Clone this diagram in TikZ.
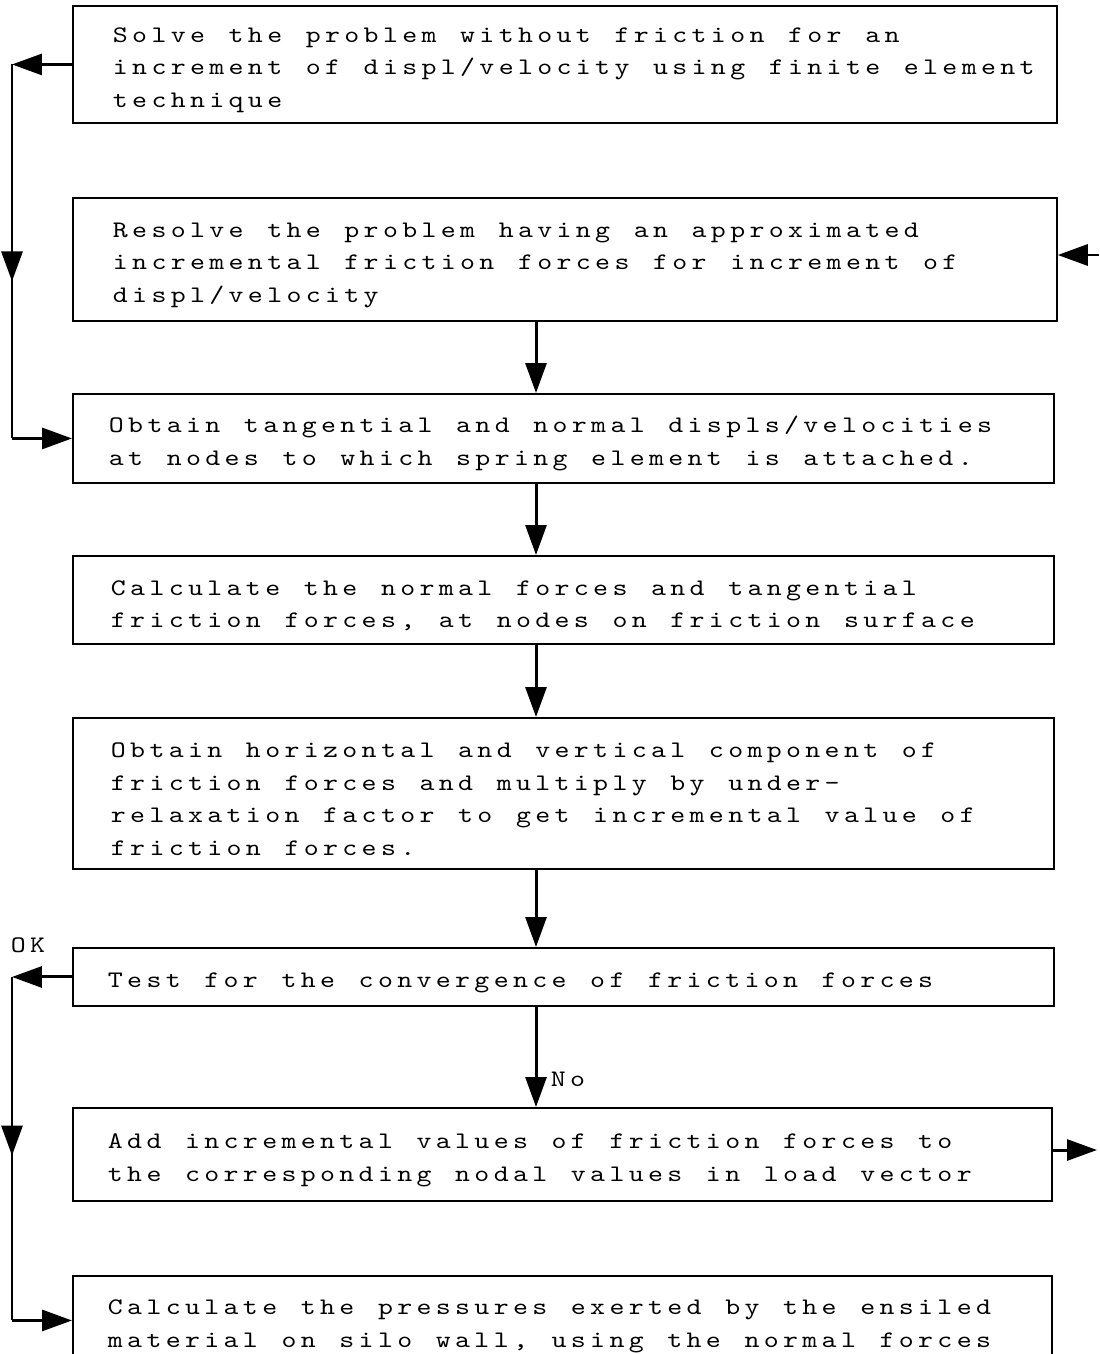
\documentclass[tikz,border=0pt]{standalone}
\usepackage{fontspec}
\usepackage{tikz}
\usetikzlibrary{arrows.meta,decorations.markings}

\newfontfamily\typew[FakeStretch=1.2]{lmmono10-regular.otf}
\newcommand\twfont{\typew\fontsize{13.5}{18.5}\selectfont}

% typewriter pitch: extra kern between characters
\XeTeXinterchartokenstate=1
\newXeTeXintercharclass\twclass
\count255=33
\loop \XeTeXcharclass\count255=\twclass \advance\count255 by 1 \ifnum\count255<127 \repeat
\XeTeXinterchartoks\twclass\twclass={\kern2.475pt}

\tikzset{
  box/.style={draw, line width=1.1pt, anchor=north west, inner xsep=0.16cm, inner ysep=0pt,
    minimum width=#1, text width=#1-0.32cm, align=left, font=\twfont},
  pad/.style={execute at begin node={\leftskip=#1\spaceskip=13.455pt\relax\rule{0pt}{15pt}}},
  flow/.style={line width=1.7pt, -{Triangle[length=0.6cm,width=0.42cm]}},
  midflow/.style={line width=1.7pt, postaction={decorate}, decoration={markings,
    mark=at position #1 with {\arrow{Triangle[length=0.6cm,width=0.42cm]}}}}
}

\begin{document}
\begin{tikzpicture}[x=0.02cm, y=-0.02cm]
  \useasboundingbox (0,0) rectangle (1099,1354);
  \clip (0,0) rectangle (1099,1354);

  % Boites
  \node[box=19.68cm, pad=0.64cm, minimum height=2.34cm] (s1) at (72,5)
    {Solve the problem without friction for an\\increment of displ/velocity using finite element\\technique};
  \node[box=19.68cm, pad=0.64cm, minimum height=2.46cm] (s2) at (72,197)
    {Resolve the problem having an approximated\\incremental friction forces for increment of\\displ/velocity};
  \node[box=19.62cm, pad=0.56cm, minimum height=1.78cm] (s3) at (72,393)
    {Obtain tangential and normal displs/velocities\\at nodes to which spring element is attached.};
  \node[box=19.62cm, pad=0.6cm, minimum height=1.76cm] (s4) at (72,555)
    {Calculate the normal forces and tangential\\friction forces, at nodes on friction surface};
  \node[box=19.62cm, pad=0.6cm, minimum height=3.02cm] (s5) at (72,717)
    {Obtain horizontal and vertical component of\\friction forces and multiply by under-\\relaxation factor to get incremental value of\\friction forces.};
  \node[box=19.62cm, pad=0.54cm, minimum height=1.16cm] (s6) at (72,947)
    {Test for the convergence of friction forces};
  \node[box=19.58cm, pad=0.54cm, minimum height=1.86cm] (s7) at (72,1107)
    {Add incremental values of friction forces to\\the corresponding nodal values in load vector};
  \node[box=19.58cm, pad=0.54cm, minimum height=1.78cm] (s8) at (72,1275)
    {Calculate the pressures exerted by the ensiled\\material on silo wall, using the normal forces};

  % Fleches verticales
  \coordinate (ax) at (536,0);
  \draw[flow] (s2.south -| ax) -- (s3.north -| ax);
  \draw[flow] (s3.south -| ax) -- (s4.north -| ax);
  \draw[flow] (s4.south -| ax) -- (s5.north -| ax);
  \draw[flow] (s5.south -| ax) -- (s6.north -| ax);
  \draw[flow] (s6.south -| ax) -- node[pos=0.72, right=0.15cm, font=\twfont] {No} (s7.north -| ax);

  % Boucle de gauche (haut)
  \coordinate (c1) at (s1.west -| 12,0);
  \coordinate (c2) at (s3.west -| 12,0);
  \draw[flow] (s1.west) -- (c1);
  \draw[midflow=0.58] (c1) -- (c2);
  \draw[flow] (c2) -- (s3.west);

  % Boucle de gauche (bas)
  \coordinate (c3) at (s6.west -| 12,0);
  \coordinate (c4) at (s8.west -| 12,0);
  \draw[flow] (s6.west) -- (c3);
  \draw[midflow=0.52] (c3) -- (c4);
  \draw[flow] (c4) -- (s8.west);
  \node[font=\twfont] (lok) at (28,945) {OK};

  % Fleches a droite
  \coordinate (r2) at (1099,255);
  \coordinate (r7) at (1097,1150);
  \draw[flow] (r2) -- (s2.east |- r2);
  \draw[flow] (s7.east |- r7) -- (r7);
\end{tikzpicture}
\end{document}
